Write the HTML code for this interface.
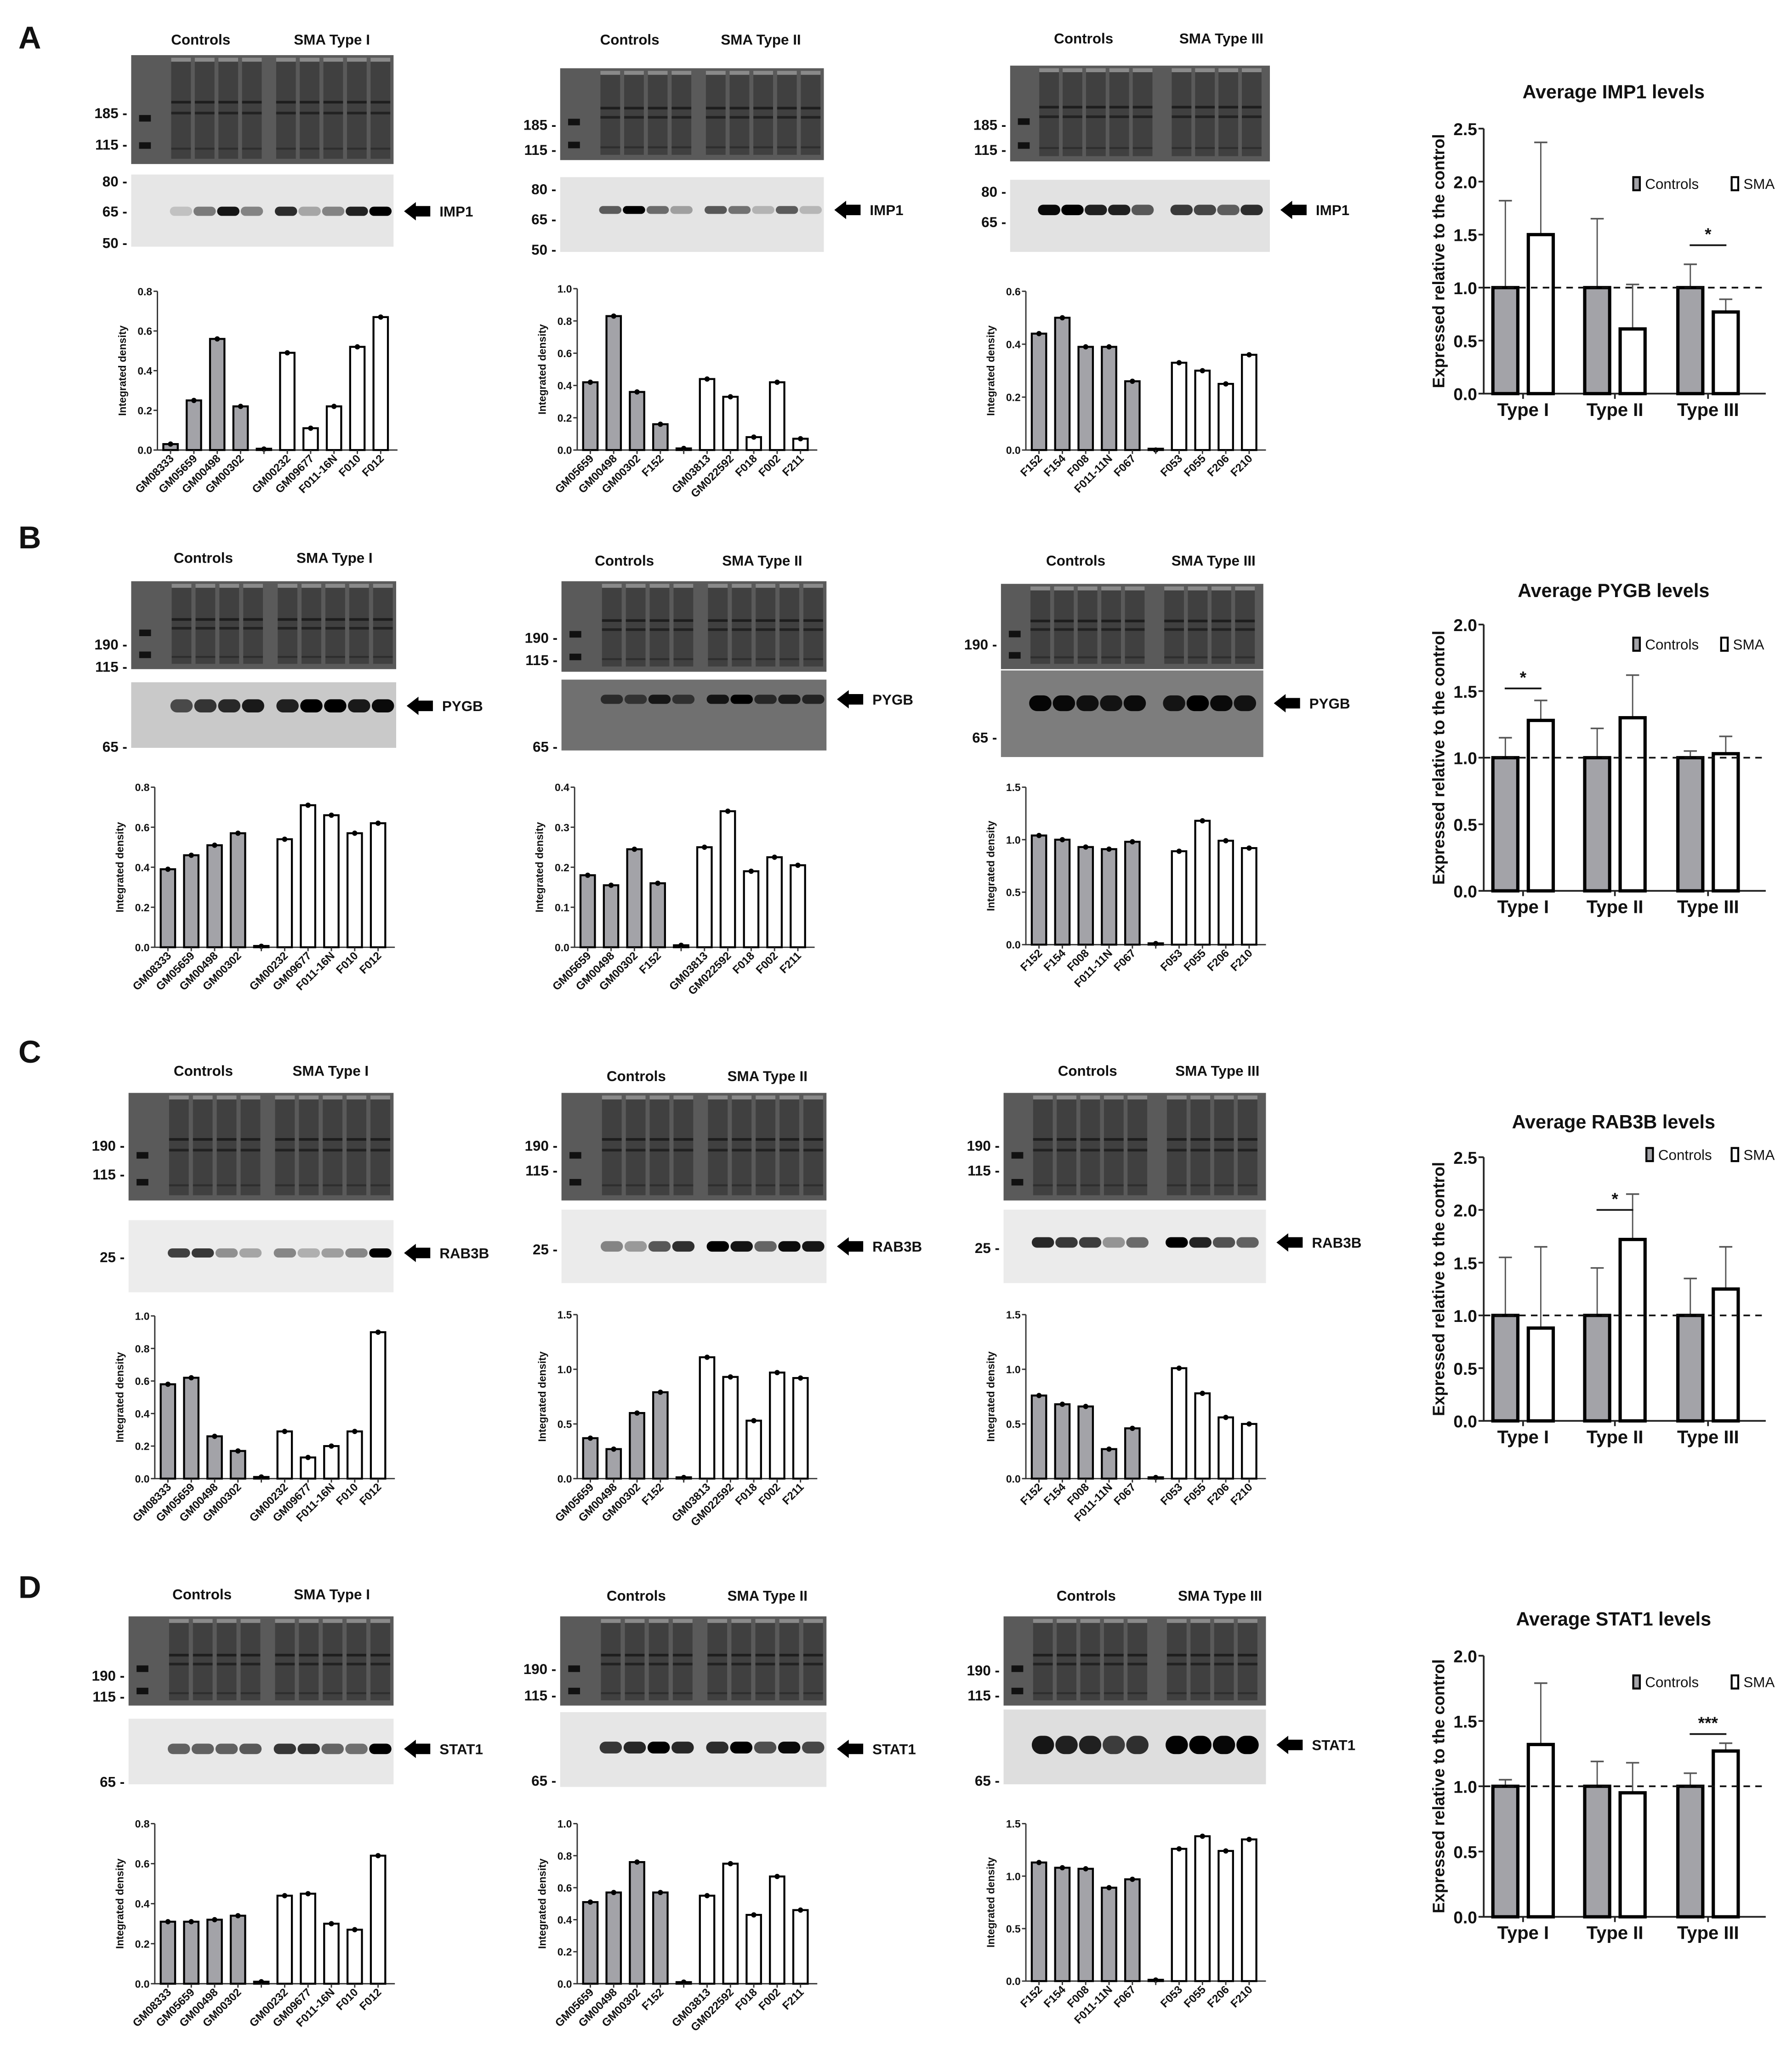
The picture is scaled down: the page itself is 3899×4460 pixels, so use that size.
<!DOCTYPE html>
<html><head><meta charset="utf-8">
<style>
html,body{margin:0;padding:0;background:#fff;}
svg{display:block;}
text{font-family:"Liberation Sans",Arial,sans-serif;}
</style></head>
<body>
<svg id="fig" xmlns="http://www.w3.org/2000/svg" width="3899" height="4460" viewBox="0 0 1366 1562.5">
<rect x="0" y="0" width="1366" height="1562.5" fill="#fff"/>
</svg>
<script>
// ---------- DATA ----------
const labels1 = ["GM08333","GM05659","GM00498","GM00302","GM00232","GM09677","F011-16N","F010","F012"];
const labels2 = ["GM05659","GM00498","GM00302","F152","GM03813","GM022592","F018","F002","F211"];
const labels3 = ["F152","F154","F008","F011-11N","F067","F053","F055","F206","F210"];

const A1_vals = [0.03,0.25,0.56,0.22,0.005,0.49,0.11,0.22,0.52,0.67];
const A2_vals = [0.42,0.83,0.36,0.16,0.01,0.44,0.33,0.08,0.42,0.07];
const A3_vals = [0.44,0.50,0.39,0.39,0.26,0.0,0.33,0.30,0.25,0.36];
const B1_vals = [0.39,0.46,0.51,0.57,0.005,0.54,0.71,0.66,0.57,0.62];
const B2_vals = [0.18,0.155,0.245,0.16,0.005,0.25,0.34,0.19,0.225,0.205];
const B3_vals = [1.04,1.0,0.93,0.91,0.98,0.01,0.89,1.18,0.99,0.92];
const C1_vals = [0.58,0.62,0.26,0.17,0.01,0.29,0.13,0.20,0.29,0.90];
const C2_vals = [0.37,0.27,0.60,0.79,0.01,1.11,0.93,0.53,0.97,0.92];
const C3_vals = [0.76,0.68,0.66,0.27,0.46,0.01,1.01,0.78,0.56,0.50];
const D1_vals = [0.31,0.31,0.32,0.34,0.01,0.44,0.45,0.30,0.27,0.64];
const D2_vals = [0.51,0.57,0.76,0.57,0.01,0.55,0.75,0.43,0.67,0.46];
const D3_vals = [1.13,1.08,1.07,0.89,0.97,0.01,1.26,1.38,1.24,1.35];

const ticks08 = ["0.0","0.2","0.4","0.6","0.8"];
const ticks10 = ["0.0","0.2","0.4","0.6","0.8","1.0"];
const ticks06 = ["0.0","0.2","0.4","0.6"];
const ticks04 = ["0.0","0.1","0.2","0.3","0.4"];
const ticks15 = ["0.0","0.5","1.0","1.5"];
const ticks25 = ["0.0","0.5","1.0","1.5","2.0","2.5"];
const ticks20 = ["0.0","0.5","1.0","1.5","2.0"];

const groups = ["Type I","Type II","Type III"];
const IMP1_ctrl = [1,1,1];      const IMP1_ctrlErr = [1.82,1.65,1.22];
const IMP1_sma = [1.5,0.61,0.77]; const IMP1_smaErr = [2.37,1.03,0.89];
const PYGB_ctrl = [1,1,1];      const PYGB_ctrlErr = [1.15,1.22,1.05];
const PYGB_sma = [1.28,1.30,1.03]; const PYGB_smaErr = [1.43,1.62,1.16];
const RAB3B_ctrl = [1,1,1];     const RAB3B_ctrlErr = [1.55,1.45,1.35];
const RAB3B_sma = [0.88,1.72,1.25]; const RAB3B_smaErr = [1.65,2.15,1.65];
const STAT1_ctrl = [1,1,1];     const STAT1_ctrlErr = [1.05,1.19,1.10];
const STAT1_sma = [1.32,0.95,1.27]; const STAT1_smaErr = [1.79,1.18,1.33];

// ---------- HELPERS ----------
const NS="http://www.w3.org/2000/svg";
const svg=document.getElementById('fig');
function mk(tag,attrs,parent,txt){const e=document.createElementNS(NS,tag);for(const k in attrs)e.setAttribute(k,attrs[k]);if(txt!==undefined)e.textContent=txt;(parent||svg).appendChild(e);return e;}
function grp(name,parent){const g=mk('g',{},parent);return g;}
function txt(name,x,y,s,size,opts,parent){const t=mk('text',Object.assign({x:x,y:y,'font-size':size,'font-weight':'bold',fill:'#111'},opts||{}),parent,s);return t;}

// ---------- BAR CHART ----------
function barChart(name,ax,y0,yTop,ticks,vals,labels,nCtrl){
  const g=grp(name);
  const tmax=parseFloat(ticks[ticks.length-1]);
  const ys=v=>y0-(v/tmax)*(y0-yTop);
  const xs=i=>ax+10+i*17.8;
  const axis=mk('path',{d:`M${ax},${yTop} V${y0} H${ax+183}`,stroke:'#333','stroke-width':1,fill:'none'},g);
  
  ticks.forEach(t=>{const y=ys(parseFloat(t));
    mk('line',{x1:ax-3,x2:ax,y1:y,y2:y,stroke:'#333','stroke-width':1},g);
    txt('y-tick-label',ax-4,y+3,t,8,{'text-anchor':'end'},g);});
  txt('y-axis-title',0,0,'Integrated density',8,{'text-anchor':'middle',transform:`translate(${ax-24},${(y0+yTop)/2}) rotate(-90)`},g);
  let li=0;
  vals.forEach((v,i)=>{
    const cx=xs(i);const y=ys(v);
    const isZero=(i===nCtrl);
    const fill=i<nCtrl?'#a3a3a8':'#fff';
    const r=mk('rect',{x:cx-5.5,y:Math.min(y,y0-1),width:11,height:Math.max(y0-y,1),fill:fill,stroke:'#000','stroke-width':1.5},g);
    
    mk('circle',{cx:cx,cy:y,r:2,fill:'#000'},g);
    mk('line',{x1:cx,x2:cx,y1:y0,y2:y0+3,stroke:'#333'},g);
    if(!isZero){const lab=labels[li++];
      txt('x-tick-label',0,0,lab,8.5,{'text-anchor':'end',transform:`translate(${cx+3},${y0+7}) rotate(-45)`},g);}
  });
}

// ---------- BLOT ----------
function blot(name,x,wTop,yT,hT,yB,hB,bandBg,bandY,vals,nCtrl,markers,headerY,ctrlX,smaX,smaLabel,protein,arrowY,bandDark){
  const g=grp(name);
  txt('controls-header',ctrlX,headerY,'Controls',11,{'text-anchor':'middle'},g);
  txt('sma-header',smaX,headerY,smaLabel,11,{'text-anchor':'middle'},g);
  const w=wTop;
  mk('rect',{x:x,y:yT,width:w,height:hT,fill:'#5a5a5a'},g);
  const centers=[];
  if(nCtrl===4){[0.19,0.28,0.37,0.46,0.59,0.68,0.77,0.86,0.95].forEach(f=>centers.push(x+f*w));}
  else{[0.15,0.24,0.33,0.42,0.51,0.66,0.75,0.84,0.93].forEach(f=>centers.push(x+f*w));}
  centers.forEach(c=>{
    mk('rect',{x:c-7.5,y:yT+4,width:15,height:hT-8,fill:'#404040'},g);
    mk('rect',{x:c-7.5,y:yT+2,width:15,height:3,fill:'#8a8a8a'},g);
    mk('rect',{x:c-7.5,y:yT+hT*0.42,width:15,height:2,fill:'#1e1e1e'},g);
    mk('rect',{x:c-7.5,y:yT+hT*0.52,width:15,height:2,fill:'#222'},g);
    mk('rect',{x:c-7.5,y:yT+hT*0.85,width:15,height:1.5,fill:'#2e2e2e'},g);
  });
  mk('rect',{x:x+0.05*w-4,y:yT+hT*0.55,width:9,height:5,fill:'#111'},g);
  mk('rect',{x:x+0.05*w-4,y:yT+hT*0.8,width:9,height:5,fill:'#111'},g);
  mk('rect',{x:x,y:yB,width:w,height:hB,fill:bandBg},g);
  const vmax=Math.max.apply(null,vals);
  const vv=vals.slice(0,nCtrl).concat(vals.slice(nCtrl+1));
  vv.forEach((v,i)=>{
    const o=Math.min(1,0.12+0.95*v/vmax);
    const e=mk('rect',{x:centers[i]-8.5,y:bandY-bandDark,width:17,height:bandDark*2,rx:bandDark,fill:'#000',opacity:o.toFixed(2)},g);
    
  });
  markers.forEach(m=>txt('mw-marker',x-3,m[1]+4,m[0]+' -',11,{'text-anchor':'end'},g));
  const ax=x+w+8;
  mk('path',{d:`M${ax},${arrowY} L${ax+9},${arrowY-7} V${arrowY-4} H${ax+20} V${arrowY+4} H${ax+9} V${arrowY+7} Z`,fill:'#000'},g);
  txt('protein-label',ax+27,arrowY+4,protein,11,{},g);
}

// ---------- SUMMARY CHART ----------
function summary(name,title,titleY,ax,y0,yTop,ticks,ctrl,ctrlErr,sma,smaErr,sigIdx,sigText,sigVal,legY,legX1,legX2){
  const g=grp(name);
  const tmax=parseFloat(ticks[ticks.length-1]);
  const ys=v=>y0-(v/tmax)*(y0-yTop);
  const centers=[1161,1231,1302];
  txt('chart-title',1230,titleY,title,14.5,{'text-anchor':'middle'},g);
  mk('path',{d:`M${ax},${yTop} V${y0} H${1346}`,stroke:'#222','stroke-width':1.3,fill:'none'},g);
  ticks.forEach(t=>{const y=ys(parseFloat(t));
    mk('line',{x1:ax-4,x2:ax,y1:y,y2:y,stroke:'#222','stroke-width':1.3},g);
    txt('y-tick-label',ax-5,y+5,t,13,{'text-anchor':'end'},g);});
  txt('y-axis-title',0,0,'Expressed relative to the control',12.5,{'text-anchor':'middle',transform:`translate(${ax-30},${(y0+yTop)/2}) rotate(-90)`},g);
  groups.forEach((gname,i)=>{
    const c=centers[i];
    mk('line',{x1:c,x2:c,y1:y0,y2:y0+4,stroke:'#222','stroke-width':1.3},g);
    txt('x-tick-label',c,y0+17,gname,14,{'text-anchor':'middle'},g);
    [[c-13.5,ctrlErr[i],ctrl[i]],[c+13.5,smaErr[i],sma[i]]].forEach(e=>{
      mk('line',{x1:e[0],x2:e[0],y1:ys(e[1]),y2:ys(e[2]),stroke:'#555','stroke-width':1},g);
      mk('line',{x1:e[0]-5,x2:e[0]+5,y1:ys(e[1]),y2:ys(e[1]),stroke:'#555','stroke-width':1.2},g);
    });
    const r1=mk('rect',{x:c-23,y:ys(ctrl[i]),width:19,height:y0-ys(ctrl[i]),fill:'#a3a3a8',stroke:'#000','stroke-width':2.5},g);
    
    const r2=mk('rect',{x:c+4,y:ys(sma[i]),width:19,height:y0-ys(sma[i]),fill:'#fff',stroke:'#000','stroke-width':2.5},g);
    
  });
  mk('line',{x1:ax,x2:1346,y1:ys(1),y2:ys(1),stroke:'#111','stroke-width':1.3,'stroke-dasharray':'5,4'},g);
  const sc=centers[sigIdx];
  mk('line',{x1:sc-14,x2:sc+14,y1:ys(sigVal),y2:ys(sigVal),stroke:'#111','stroke-width':1.3},g);
  txt('significance',sc,ys(sigVal)-4,sigText,13,{'text-anchor':'middle'},g);
  const lg=grp('legend',g);
  mk('rect',{x:legX1,y:legY-5,width:5,height:10,fill:'#a3a3a8',stroke:'#000','stroke-width':1.5},lg);
  txt('legend-controls',legX1+9,legY+4,'Controls',11,{'font-weight':'normal'},lg);
  mk('rect',{x:legX2,y:legY-5,width:5,height:10,fill:'#fff',stroke:'#000','stroke-width':1.5},lg);
  txt('legend-sma',legX2+9,legY+4,'SMA',11,{'font-weight':'normal'},lg);
}

// ---------- PANEL LETTERS ----------
[['A',37],['B',418],['C',810],['D',1218]].forEach(p=>txt('panel-letter-'+p[0].toLowerCase(),14,p[1],p[0],24,{},svg));

// ---------- ROW A ----------
blot('blot-a1',100,200,42,83,133,55,'#e6e6e6',161,A1_vals,4,[['185',86],['115',110],['80',138],['65',161],['50',185]],34,153,253,'SMA Type I','IMP1',161,3.5);
blot('blot-a2',427,201,52,70,135,57,'#e4e4e4',160,A2_vals,4,[['185',95],['115',114],['80',144],['65',167],['50',190]],34,480,580,'SMA Type II','IMP1',160,3);
blot('blot-a3',770,198,50,73,137,55,'#e2e2e2',160,A3_vals,5,[['185',95],['115',114],['80',146],['65',169]],33,826,931,'SMA Type III','IMP1',160,4);
barChart('bar-chart-a1',120,343,222,ticks08,A1_vals,labels1,4);
barChart('bar-chart-a2',440,343,220,ticks10,A2_vals,labels2,4);
barChart('bar-chart-a3',782,343,222,ticks06,A3_vals,labels3,5);
summary('summary-imp1','Average IMP1 levels',75,1131,300,98,ticks25,IMP1_ctrl,IMP1_ctrlErr,IMP1_sma,IMP1_smaErr,2,'*',1.4,140,1245,1320);

// ---------- ROW B ----------
blot('blot-b1',100,202,443,67,520,50,'#c9c9c9',538,B1_vals,4,[['190',491],['115',508],['65',569]],429,155,255,'SMA Type I','PYGB',538,5);
blot('blot-b2',428,202,443,69,518,54,'#707070',533,B2_vals,4,[['190',486],['115',503],['65',569]],431,476,581,'SMA Type II','PYGB',533,3.5);
blot('blot-b3',763,200,445,65,511,66,'#7d7d7d',536,B3_vals,5,[['190',491],['65',562]],431,820,925,'SMA Type III','PYGB',536,6);
barChart('bar-chart-b1',118,722,600,ticks08,B1_vals,labels1,4);
barChart('bar-chart-b2',438,722,600,ticks04,B2_vals,labels2,4);
barChart('bar-chart-b3',782,720,600,ticks15,B3_vals,labels3,5);
summary('summary-pygb','Average PYGB levels',455,1131,679,476,ticks20,PYGB_ctrl,PYGB_ctrlErr,PYGB_sma,PYGB_smaErr,0,'*',1.52,491,1245,1312);

// ---------- ROW C ----------
blot('blot-c1',98,202,833,82,930,55,'#ececec',955,C1_vals,4,[['190',873],['115',895],['25',958]],820,155,252,'SMA Type I','RAB3B',955,3.5);
blot('blot-c2',428,202,833,82,922,56,'#ebebeb',950,C2_vals,4,[['190',873],['115',892],['25',952]],824,485,585,'SMA Type II','RAB3B',950,4);
blot('blot-c3',765,200,833,82,922,56,'#ebebeb',947,C3_vals,5,[['190',873],['115',892],['25',951]],820,829,928,'SMA Type III','RAB3B',947,4);
barChart('bar-chart-c1',118,1127,1003,ticks10,C1_vals,labels1,4);
barChart('bar-chart-c2',440,1127,1002,ticks15,C2_vals,labels2,4);
barChart('bar-chart-c3',782,1127,1002,ticks15,C3_vals,labels3,5);
summary('summary-rab3b','Average RAB3B levels',860,1131,1083,882,ticks25,RAB3B_ctrl,RAB3B_ctrlErr,RAB3B_sma,RAB3B_smaErr,1,'*',2.0,880,1255,1320);

// ---------- ROW D ----------
blot('blot-d1',98,202,1232,68,1310,50,'#e8e8e8',1333,D1_vals,4,[['190',1277],['115',1293],['65',1358]],1219,154,253,'SMA Type I','STAT1',1333,4);
blot('blot-d2',427,203,1232,68,1305,57,'#e6e6e6',1332,D2_vals,4,[['190',1272],['115',1292],['65',1357]],1220,485,585,'SMA Type II','STAT1',1333,4.5);
blot('blot-d3',765,200,1232,68,1303,57,'#dedede',1330,D3_vals,5,[['190',1273],['115',1292],['65',1357]],1220,828,930,'SMA Type III','STAT1',1330,7);
barChart('bar-chart-d1',118,1512,1390,ticks08,D1_vals,labels1,4);
barChart('bar-chart-d2',440,1512,1390,ticks10,D2_vals,labels2,4);
barChart('bar-chart-d3',782,1510,1390,ticks15,D3_vals,labels3,5);
summary('summary-stat1','Average STAT1 levels',1239,1131,1461,1262,ticks20,STAT1_ctrl,STAT1_ctrlErr,STAT1_sma,STAT1_smaErr,2,'***',1.40,1282,1245,1320);
</script>
</body></html>
